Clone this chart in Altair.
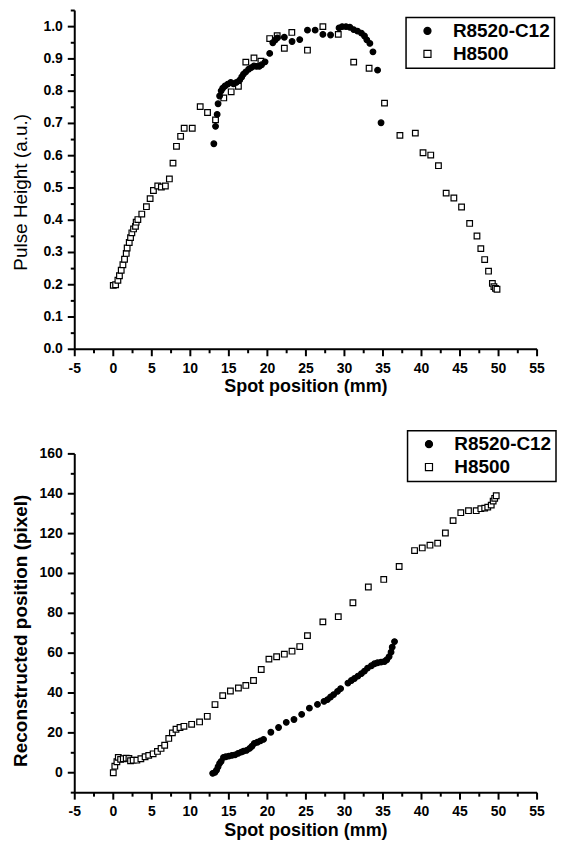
import altair as alt
import pandas as pd

R = "R8520-C12"
H = "H8500"

# ---- top panel: Pulse Height ----
x_top_h = [0.0, 0.3, 0.6, 0.8, 1.03, 1.25, 1.46, 1.68, 1.8, 2.07, 2.24, 2.41, 2.63, 2.88, 2.97,
           3.19, 3.7, 4.3, 4.78, 5.21, 5.77, 6.24, 6.76, 7.28, 7.75, 8.2, 8.74, 9.2, 10.25, 11.28,
           12.23, 13.27, 14.34, 15.3, 16.24, 17.2, 18.26, 19.16, 20.3, 21.27, 22.2, 23.17, 25.2,
           27.2, 29.2, 31.2, 33.2, 35.2, 37.2, 39.2, 40.2, 41.2, 42.2, 43.2, 44.2, 45.2, 46.25,
           47.2, 47.7, 48.2, 48.7, 49.2, 49.4, 49.6, 49.8]
y_top_h = [0.198, 0.2, 0.214, 0.228, 0.245, 0.262, 0.279, 0.297, 0.314, 0.331, 0.346, 0.361,
           0.373, 0.381, 0.394, 0.402, 0.419, 0.442, 0.467, 0.492, 0.506, 0.503, 0.506, 0.528,
           0.577, 0.629, 0.66, 0.685, 0.685, 0.752, 0.734, 0.711, 0.779, 0.798, 0.815, 0.89,
           0.903, 0.893, 0.963, 0.972, 0.933, 0.982, 0.927, 1.0, 0.976, 0.89, 0.871, 0.763,
           0.663, 0.67, 0.609, 0.602, 0.569, 0.484, 0.469, 0.441, 0.39, 0.351, 0.312, 0.278,
           0.242, 0.204, 0.194, 0.189, 0.186]
x_top_r = [13.05, 13.27, 13.48, 13.6, 13.8, 14.0, 14.2, 14.5, 14.86, 15.25, 15.6, 15.98, 16.4,
           16.67, 16.9, 17.2, 17.57, 17.9, 18.26, 18.6, 18.95, 19.25, 19.7, 20.3, 20.7, 21.0,
           21.3, 22.2, 23.2, 24.2, 25.2, 26.2, 27.2, 28.2, 29.3, 29.7, 30.2, 30.7, 31.2, 31.7,
           32.2, 32.6, 32.9, 33.3, 33.7, 34.3, 34.75]
y_top_r = [0.637, 0.691, 0.728, 0.761, 0.785, 0.801, 0.809, 0.816, 0.822, 0.827, 0.823, 0.827,
           0.834, 0.844, 0.853, 0.86, 0.868, 0.873, 0.878, 0.877, 0.877, 0.882, 0.891, 0.917,
           0.95, 0.958, 0.965, 0.967, 0.954, 0.96, 0.989, 0.989, 0.976, 0.974, 0.996, 1.0, 1.0,
           0.998, 0.991, 0.986, 0.98, 0.971, 0.959, 0.948, 0.922, 0.865, 0.702]

# ---- bottom panel: Reconstructed position ----
x_bot_h = [0.0, 0.2, 0.47, 0.65, 0.95, 1.3, 1.68, 2.03, 2.24, 2.58, 3.06, 3.58, 4.13, 4.6, 5.17,
           5.73, 6.2, 6.67, 7.2, 7.67, 8.14, 8.66, 9.17, 10.17, 11.2, 12.2, 13.2, 14.2, 15.2,
           16.24, 17.2, 18.2, 19.2, 20.2, 21.2, 22.2, 23.2, 24.2, 25.2, 27.2, 29.2, 31.1, 33.1,
           35.1, 37.1, 39.1, 40.1, 41.1, 42.1, 43.1, 44.1, 45.1, 46.1, 47.1, 47.7, 48.2, 48.6,
           49.05, 49.3, 49.5, 49.7]
y_bot_h = [0, 3.3, 5.5, 7.7, 6.7, 7.0, 7.3, 7.2, 6.0, 6.3, 6.3, 7.0, 8.0, 8.7, 9.5, 10.7, 12.2,
           13.8, 17.2, 20.0, 21.8, 22.7, 23.3, 24.3, 25.5, 28.3, 34.2, 38.7, 41.0, 42.5, 43.8,
           46.3, 51.8, 57.0, 58.2, 59.5, 61.0, 63.3, 68.8, 75.7, 78.3, 85.3, 93.2, 97.0, 103.5,
           111.5, 112.8, 114.2, 115.2, 120.3, 126.5, 130.5, 131.5, 131.5, 132.5, 132.8, 133.3,
           134.3, 136.3, 137.7, 139.0]
x_bot_r = [12.9, 13.2, 13.4, 13.6, 13.8, 14.0, 14.3, 14.6, 15.0, 15.4, 15.8, 16.2, 16.6, 16.9,
           17.3, 17.7, 18.0, 18.3, 18.7, 19.1, 19.5, 20.45, 21.45, 22.45, 23.45, 24.45, 25.45,
           26.5, 27.35, 27.8, 28.2, 28.6, 29.1, 29.5, 30.45, 30.9, 31.3, 31.75, 32.2, 32.6, 33.0,
           33.5, 33.9, 34.3, 34.75, 35.2, 35.5, 35.8, 36.05, 36.2, 36.5]
y_bot_r = [-0.3, 0.2, 1.3, 3.0, 4.7, 5.7, 7.7, 8.0, 8.3, 8.7, 9.0, 9.7, 10.3, 10.8, 11.2, 12.2,
           13.3, 14.7, 15.3, 16.0, 16.7, 20.3, 22.7, 25.3, 26.7, 29.3, 32.4, 34.3, 35.8, 36.7,
           38.0, 39.2, 40.8, 42.2, 45.0, 46.3, 47.3, 48.5, 49.7, 51.0, 52.5, 53.7, 54.7, 55.2,
           55.5, 55.8, 56.7, 58.3, 60.5, 63.0, 65.8]

# axis ticks and tick labels
x_major = [-5, 0, 5, 10, 15, 20, 25, 30, 35, 40, 45, 50, 55]
x_labels = ["-5", "0", "5", "10", "15", "20", "25", "30", "35", "40", "45", "50", "55"]
x_minor = [-2.5, 2.5, 7.5, 12.5, 17.5, 22.5, 27.5, 32.5, 37.5, 42.5, 47.5, 52.5]
ytop_major = [0.0, 0.1, 0.2, 0.3, 0.4, 0.5, 0.6, 0.7, 0.8, 0.9, 1.0]
ytop_labels = ["0.0", "0.1", "0.2", "0.3", "0.4", "0.5", "0.6", "0.7", "0.8", "0.9", "1.0"]
ytop_minor = [0.05, 0.15, 0.25, 0.35, 0.45, 0.55, 0.65, 0.75, 0.85, 0.95, 1.05]
ybot_major = [0, 20, 40, 60, 80, 100, 120, 140, 160]
ybot_labels = ["0", "20", "40", "60", "80", "100", "120", "140", "160"]
ybot_minor = [-10, 10, 30, 50, 70, 90, 110, 130, 150]
x_dom = [-5, 55]
x_title = "Spot position (mm)"

FONT = "Liberation Sans"
W, HT = 464, 340
LW = 2  # axis line / tick thickness


def frame(xh, yh, xr, yr):
    a = pd.DataFrame({"x": xh, "y": yh, "series": H})
    b = pd.DataFrame({"x": xr, "y": yr, "series": R})
    return pd.concat([a, b], ignore_index=True)


def panel(df, ydom, ymaj, ylab, ymin, ytitle, ytitle_weight, ytitle_y, legx, legy):
    xs = alt.Scale(domain=x_dom, nice=False, zero=False)
    ys = alt.Scale(domain=ydom, nice=False, zero=False)
    leg = alt.Legend(orient="none", legendX=legx, legendY=legy, title=None,
                     labelFont=FONT, labelFontSize=19, labelFontWeight="bold",
                     labelColor="black", strokeColor="black", fillColor="white",
                     padding=4, rowPadding=3, symbolOffset=8, labelOffset=16,
                     symbolSize=50, symbolStrokeWidth=1.2)
    dom = [R, H]
    pts = alt.Chart(df).mark_point(size=32, opacity=1, strokeWidth=1.2).encode(
        x=alt.X("x:Q", scale=xs, axis=None),
        y=alt.Y("y:Q", scale=ys, axis=None),
        shape=alt.Shape("series:N", scale=alt.Scale(domain=dom, range=["circle", "square"]),
                        legend=leg),
        fill=alt.Fill("series:N", scale=alt.Scale(domain=dom, range=["black", "white"]),
                      legend=leg),
        stroke=alt.Stroke("series:N", scale=alt.Scale(domain=dom, range=["black", "black"]),
                          legend=leg),
    )
    # axis lines and tick marks
    xdom = alt.Chart(pd.DataFrame({"a": [x_dom[0]], "b": [x_dom[1]]})).mark_rect(
        color="black").encode(x=alt.X("a:Q", scale=xs, axis=None), x2="b",
                              y=alt.value(HT - LW / 2), y2=alt.value(HT + LW / 2))
    ydom_ = alt.Chart(pd.DataFrame({"a": [ydom[0]], "b": [ydom[1]]})).mark_rect(
        color="black").encode(y=alt.Y("a:Q", scale=ys, axis=None), y2="b",
                              x=alt.value(-LW / 2), x2=alt.value(LW / 2))
    xt_maj = alt.Chart(pd.DataFrame({"v": x_major})).mark_tick(
        orient="vertical", size=7, thickness=LW, color="black", opacity=1).encode(
        x=alt.X("v:Q", scale=xs, axis=None), y=alt.value(HT + 3.5))
    xt_min = alt.Chart(pd.DataFrame({"v": x_minor})).mark_tick(
        orient="vertical", size=4, thickness=LW, color="black", opacity=1).encode(
        x=alt.X("v:Q", scale=xs, axis=None), y=alt.value(HT + 2))
    yt_maj = alt.Chart(pd.DataFrame({"v": ymaj})).mark_tick(
        orient="horizontal", size=7, thickness=LW, color="black", opacity=1).encode(
        y=alt.Y("v:Q", scale=ys, axis=None), x=alt.value(-3.5))
    yt_min = alt.Chart(pd.DataFrame({"v": ymin})).mark_tick(
        orient="horizontal", size=4, thickness=LW, color="black", opacity=1).encode(
        y=alt.Y("v:Q", scale=ys, axis=None), x=alt.value(-2))
    # tick labels, placed through the scales
    xl = alt.Chart(pd.DataFrame({"v": x_major, "t": x_labels})).mark_text(
        font=FONT, fontSize=14, fontWeight="bold", color="black", align="center",
        baseline="middle").encode(x=alt.X("v:Q", scale=xs, axis=None),
                                  y=alt.value(HT + 19.5), text="t:N")
    yl = alt.Chart(pd.DataFrame({"v": ymaj, "t": ylab})).mark_text(
        font=FONT, fontSize=14, fontWeight="bold", color="black", align="right",
        baseline="middle").encode(y=alt.Y("v:Q", scale=ys, axis=None),
                                  x=alt.value(-12), text="t:N")
    # axis titles
    xt = alt.Chart(pd.DataFrame({"t": [x_title]})).mark_text(
        font=FONT, fontSize=18, fontWeight="bold", color="black", align="center",
        baseline="alphabetic").encode(x=alt.value(W / 2), y=alt.value(HT + 43), text="t:N")
    yt = alt.Chart(pd.DataFrame({"t": [ytitle]})).mark_text(
        font=FONT, fontSize=19, fontWeight=ytitle_weight, color="black", align="center",
        baseline="alphabetic", angle=270).encode(x=alt.value(-47.7), y=alt.value(ytitle_y),
                                                  text="t:N")
    return alt.layer(pts, xdom, ydom_, xt_maj, xt_min, yt_maj, yt_min, xl, yl, xt, yt
                     ).properties(width=W, height=HT)


top = panel(frame(x_top_h, y_top_h, x_top_r, y_top_r), [0, 1.05], ytop_major, ytop_labels,
            ytop_minor, "Pulse Height (a.u.)", "normal", 182.5, 332.5, 7)
bottom = panel(frame(x_bot_h, y_bot_h, x_bot_r, y_bot_r), [-10, 160], ybot_major,
               ybot_labels, ybot_minor, "Reconstructed position (pixel)", "bold", 177.5,
               334, -23.3)

chart = alt.vconcat(top, bottom, spacing=105, bounds="flush").resolve_scale(
    shape="independent", fill="independent", stroke="independent").resolve_legend(
    shape="independent", fill="independent", stroke="independent").properties(
    padding={"left": 4, "top": 0, "right": 0, "bottom": 0}).configure_view(
    strokeWidth=0).configure_legend(strokeWidth=1.5)

chart.save("out.html", embed_options={"renderer": "svg", "actions": False})
